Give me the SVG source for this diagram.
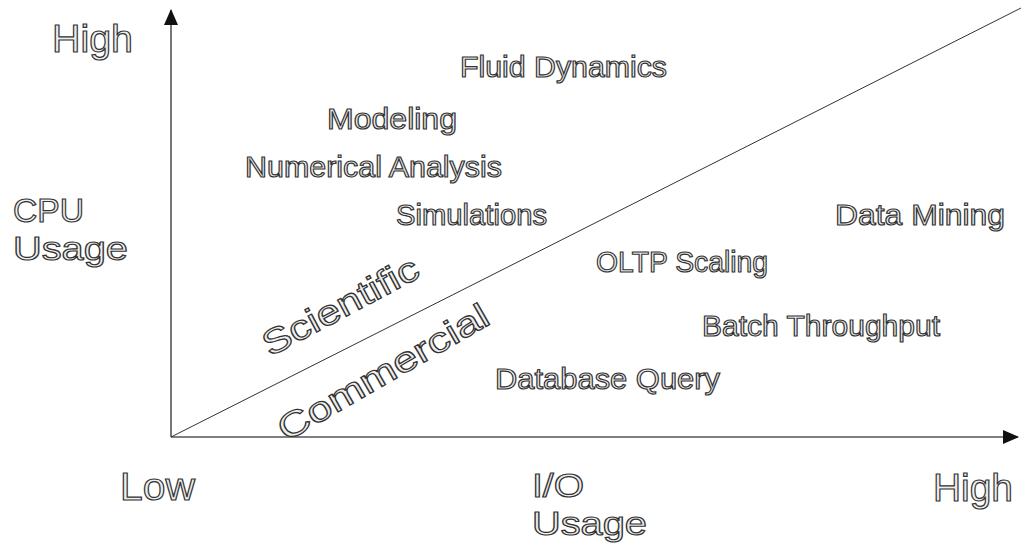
<svg xmlns="http://www.w3.org/2000/svg" width="1021" height="548" viewBox="0 0 1021 548">
<style>
.t{font-family:"Liberation Sans","DejaVu Sans",sans-serif;fill:#eeeeee;stroke:#333;stroke-width:1.2;}
.big{font-size:39px;}
.two{font-size:34px;}
.mid{font-size:30px;}
.rot{font-size:35px;}
.axis{stroke:#555;stroke-width:1.6;fill:none;}
.diag{stroke:#333;stroke-width:1;fill:none;}
</style>
<defs>
<marker id="arr" viewBox="0 0 16 14" refX="15" refY="7" markerWidth="16" markerHeight="14" markerUnits="userSpaceOnUse" orient="auto">
<path d="M0,0 L16,7 L0,14 Z" fill="#111"/>
</marker>
</defs>
<rect width="1021" height="548" fill="#fff"/>
<g id="connectors">
<line class="axis" x1="171" y1="437" x2="171" y2="10" marker-end="url(#arr)"/>
<line class="axis" x1="171" y1="437" x2="1018" y2="437" marker-end="url(#arr)"/>
<line class="diag" x1="171" y1="437" x2="1021" y2="8"/>
</g>
<g id="y-high"><text class="t big" x="52" y="52" textLength="81" lengthAdjust="spacingAndGlyphs">High</text></g>
<g id="cpu-usage"><text class="t two"><tspan x="13" y="222" textLength="71" lengthAdjust="spacingAndGlyphs">CPU</tspan><tspan x="13" y="260" textLength="115" lengthAdjust="spacingAndGlyphs">Usage</tspan></text></g>
<g id="x-low"><text class="t big" x="120" y="500" textLength="75" lengthAdjust="spacingAndGlyphs">Low</text></g>
<g id="io-usage"><text class="t two"><tspan x="532" y="497" textLength="52" lengthAdjust="spacingAndGlyphs">I/O</tspan><tspan x="532" y="535" textLength="115" lengthAdjust="spacingAndGlyphs">Usage</tspan></text></g>
<g id="x-high"><text class="t big" x="933" y="501" textLength="80" lengthAdjust="spacingAndGlyphs">High</text></g>
<g id="fluid"><text class="t mid" x="460" y="77" textLength="207" lengthAdjust="spacingAndGlyphs">Fluid Dynamics</text></g>
<g id="modeling"><text class="t mid" x="327" y="129" textLength="130" lengthAdjust="spacingAndGlyphs">Modeling</text></g>
<g id="numerical"><text class="t mid" x="245" y="177" textLength="257" lengthAdjust="spacingAndGlyphs">Numerical Analysis</text></g>
<g id="simulations"><text class="t mid" x="396" y="225" textLength="151" lengthAdjust="spacingAndGlyphs">Simulations</text></g>
<g id="datamining"><text class="t mid" x="835" y="225" textLength="170" lengthAdjust="spacingAndGlyphs">Data Mining</text></g>
<g id="oltp"><text class="t mid" x="596" y="272" textLength="172" lengthAdjust="spacingAndGlyphs">OLTP Scaling</text></g>
<g id="batch"><text class="t mid" x="702" y="336" textLength="238" lengthAdjust="spacingAndGlyphs">Batch Throughput</text></g>
<g id="dbquery"><text class="t mid" x="495" y="389" textLength="225" lengthAdjust="spacingAndGlyphs">Database Query</text></g>
<g id="scientific"><text class="t rot" transform="translate(270,357) rotate(-28)" textLength="172" lengthAdjust="spacingAndGlyphs">Scientific</text></g>
<g id="commercial"><text class="t rot" transform="translate(286,442) rotate(-30)" textLength="238" lengthAdjust="spacingAndGlyphs">Commercial</text></g>
</svg>
